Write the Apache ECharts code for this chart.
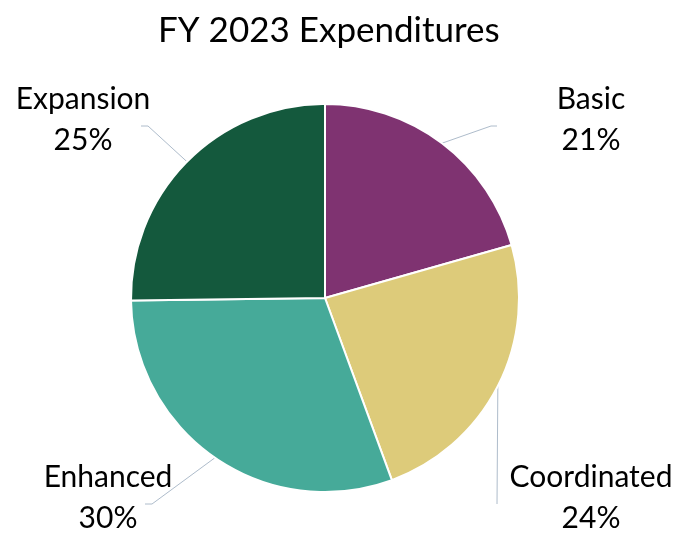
<!DOCTYPE html>
<html>
<head>
<meta charset="utf-8">
<script src="https://cdn.jsdelivr.net/npm/echarts@6/dist/echarts.min.js"></script>
<style>
  html, body { margin: 0; padding: 0; background: #fff; }
  #chart { width: 682px; height: 533px; }
</style>
</head>
<body>
<div id="chart"></div>
<script>
const categories = ['Basic', 'Coordinated', 'Enhanced', 'Expansion']
const shares = [20.6, 23.8, 30.4, 25.2]
const colors = ['#7f3371', '#ddcb7a', '#46aa99', '#14593d']

const cx = 325
const cy = 298

const chart = echarts.init(document.getElementById('chart'))

chart.setOption({
  backgroundColor: '#ffffff',
  animation: false,
  title: {
    text: 'FY 2023 Expenditures',
    left: 153,
    top: 8,
    textStyle: { fontFamily: 'Lato', fontSize: 35, fontWeight: 'normal', color: '#000' },
  },
  series: [{
    type: 'pie',
    center: [cx, cy],
    radius: 194,
    startAngle: 90,
    clockwise: true,
    percentPrecision: 0,
    data: categories.map((name, i) => ({ name, value: shares[i], itemStyle: { color: colors[i] } })),
    itemStyle: { borderColor: '#fff', borderWidth: 2 },
    label: {
      show: true,
      position: 'outside',
      formatter: '{b}\n{d}%',
      fontFamily: 'Lato',
      fontSize: 30,
      lineHeight: 41,
      color: '#000',
      overflow: 'none',
      width: 200,
    },
    labelLine: {
      show: true,
      length: 20,
      length2: 10,
      lineStyle: { color: '#aebccb', width: 1 },
    },
    // place labels the way the spreadsheet did: outside the corners,
    // with the guide line running from the slice middle toward the label
    labelLayout(params) {
      const pts = params.labelLinePoints
      if (!pts) return {}
      const a = pts[0]
      const right = a[0] > cx
      const top = a[1] < cy
      const x = cx + (right ? 266 : (top ? -242 : -217))
      const y = cy + (top ? -178 : 200)
      const end = [x + (right ? -94 : (top ? 58 : 37)), y + 6]
      const elbow = [end[0] + (right ? -6 : 7), end[1]]
      if (right && !top) elbow[0] = end[0]
      return {
        x, y,
        align: 'center',
        verticalAlign: 'middle',
        labelLinePoints: [a, elbow, end],
      }
    },
    emphasis: { disabled: true },
  }],
})
</script>
</body>
</html>
